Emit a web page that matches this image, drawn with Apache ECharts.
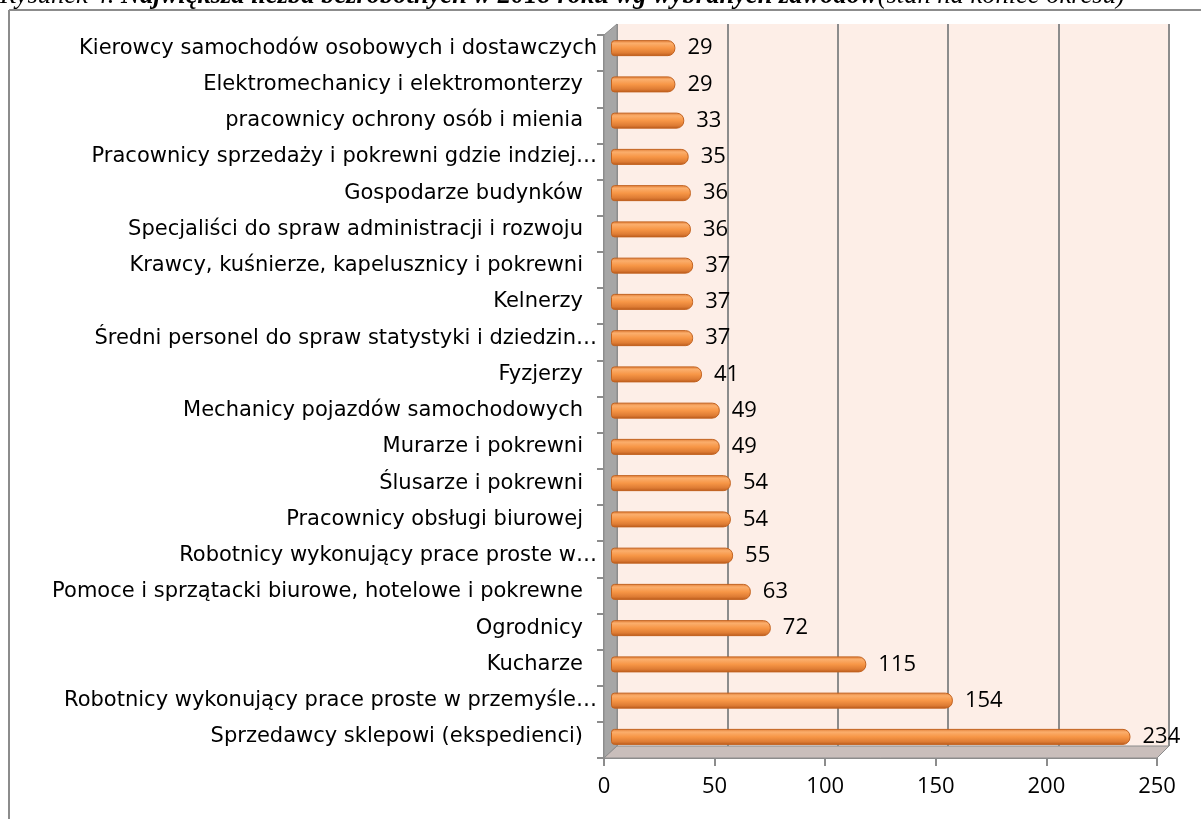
<!DOCTYPE html>
<html>
<head>
<meta charset="utf-8">
<script src="https://cdn.jsdelivr.net/npm/echarts@6/dist/echarts.min.js"></script>
<style>html,body{margin:0;padding:0;background:#fff;}#c{width:1201px;height:819px;}</style>
</head>
<body>
<div id="c"></div>
<script>
const categories = [
  "Kierowcy samochodów osobowych i dostawczych",
  "Elektromechanicy i elektromonterzy",
  "pracownicy ochrony osób i mienia",
  "Pracownicy sprzedaży i pokrewni gdzie indziej…",
  "Gospodarze budynków",
  "Specjaliści do spraw administracji i rozwoju",
  "Krawcy, kuśnierze, kapelusznicy i pokrewni",
  "Kelnerzy",
  "Średni personel do spraw statystyki i dziedzin…",
  "Fyzjerzy",
  "Mechanicy pojazdów samochodowych",
  "Murarze i pokrewni",
  "Ślusarze i pokrewni",
  "Pracownicy obsługi biurowej",
  "Robotnicy wykonujący prace proste w…",
  "Pomoce i sprzątacki biurowe, hotelowe i pokrewne",
  "Ogrodnicy",
  "Kucharze",
  "Robotnicy wykonujący prace proste w przemyśle…",
  "Sprzedawcy sklepowi (ekspedienci)"
];
const values = [29, 29, 33, 35, 36, 36, 37, 37, 37, 41, 49, 49, 54, 54, 55, 63, 72, 115, 154, 234];
const xTicks = [0, 50, 100, 150, 200, 250];
const titleNormal = "Rysunek 4. ";
const titleBold = "Największa liczba bezrobotnych w 2018 roku wg wybranych zawodów";
const titleTail = "(stan na koniec okresu)";

const FONT = "Open Sans";
const CATFONT = "DejaVu Sans";
const chart = echarts.init(document.getElementById('c'), null, {renderer: 'canvas'});

const option = {
  backgroundColor: '#ffffff',
  animation: false,
  grid: [
    {left: 617, right: 32, top: 24, bottom: 73, show: true, backgroundColor: '#FDEEE7', borderWidth: 0},
    {left: 611, right: 35, top: 30, bottom: 64},
    {left: 604, right: 44, top: 35, bottom: 61}
  ],
  xAxis: [
    {gridIndex: 0, type: 'value', min: 0, max: 250, interval: 50,
     axisLine: {show: false}, axisTick: {show: false}, axisLabel: {show: false},
     splitLine: {show: true, lineStyle: {color: '#8C8C8C', width: 2}}},
    {gridIndex: 1, type: 'value', min: 0, max: 250, interval: 50,
     axisLine: {show: false}, axisTick: {show: false}, axisLabel: {show: false}, splitLine: {show: false}},
    {gridIndex: 2, type: 'value', min: xTicks[0], max: xTicks[xTicks.length - 1], interval: 50,
     axisLine: {show: true, lineStyle: {color: '#8C8C8C', width: 2}},
     axisTick: {show: true, length: 8, lineStyle: {color: '#8C8C8C', width: 2}},
     axisLabel: {show: true, color: '#000', fontFamily: FONT, fontSize: 22, margin: 18},
     splitLine: {show: false}}
  ],
  yAxis: [
    {gridIndex: 0, type: 'category', data: categories, inverse: true, show: false},
    {gridIndex: 1, type: 'category', data: categories, inverse: true,
     axisLine: {show: false}, axisTick: {show: false},
     axisLabel: {
       show: true, margin: 14, color: '#000',
       formatter: function (v) {
         if (v.endsWith('…') || v.startsWith('Kierowcy')) return '{e|' + v + '}';
         return '{n|' + v + '}';
       },
       rich: {
         e: {fontFamily: CATFONT, fontSize: 21, color: '#000'},
         n: {fontFamily: CATFONT, fontSize: 21, color: '#000', padding: [0, 14, 0, 0]}
       }
     }},
    {gridIndex: 2, type: 'category', data: categories, inverse: true,
     axisLine: {show: true, lineStyle: {color: '#8C8C8C', width: 2}},
     axisTick: {show: true, length: 7, lineStyle: {color: '#8C8C8C', width: 2}},
     axisLabel: {show: false}}
  ],
  graphic: [
    {type: 'line', shape: {x1: 9, y1: 10, x2: 1201, y2: 10}, style: {stroke: '#8C8C8C', lineWidth: 2}, z: 0},
    {type: 'line', shape: {x1: 9, y1: 10, x2: 9, y2: 819}, style: {stroke: '#8C8C8C', lineWidth: 2}, z: 0},
    {type: 'polygon', shape: {points: [[604, 35], [617, 24], [617, 746], [604, 758]]},
     style: {fill: '#A6A6A6', stroke: '#8C8C8C', lineWidth: 1}, z: 1},
    {type: 'polygon', shape: {points: [[604, 758], [617, 746], [1169, 746], [1157, 758]]},
     style: {fill: '#C9BEBB', stroke: '#8C8C8C', lineWidth: 1}, z: 1},
    {type: 'line', shape: {x1: 1169, y1: 24, x2: 1169, y2: 746}, style: {stroke: '#8C8C8C', lineWidth: 2}, z: 1},
    {type: 'text', left: 0, top: -17, z: 10,
     style: {
       text: '{a|' + titleNormal + '}{b|' + titleBold + '}{a|' + titleTail + '}',
       rich: {
         a: {fontFamily: 'Liberation Serif', fontStyle: 'italic', fontSize: 26.5, fill: '#000'},
         b: {fontFamily: 'Liberation Serif', fontStyle: 'italic', fontWeight: 'bold', fontSize: 26.5, fill: '#000'}
       }
     }}
  ],
  series: [
    {
      type: 'bar', xAxisIndex: 1, yAxisIndex: 1, data: values, barWidth: 16, z: 5,
      itemStyle: {
        borderRadius: [3, 7, 7, 3],
        borderColor: '#C2621F', borderWidth: 1,
        color: new echarts.graphic.LinearGradient(0, 0, 0, 1, [
          {offset: 0, color: '#E07C35'},
          {offset: 0.2, color: '#FBAE6C'},
          {offset: 0.5, color: '#F79646'},
          {offset: 0.8, color: '#DE7C34'},
          {offset: 1, color: '#B9591B'}
        ])
      },
      label: {show: true, position: 'right', distance: 12, color: '#000', fontFamily: FONT, fontSize: 22}
    }
  ]
};
chart.setOption(option);
</script>
</body>
</html>
